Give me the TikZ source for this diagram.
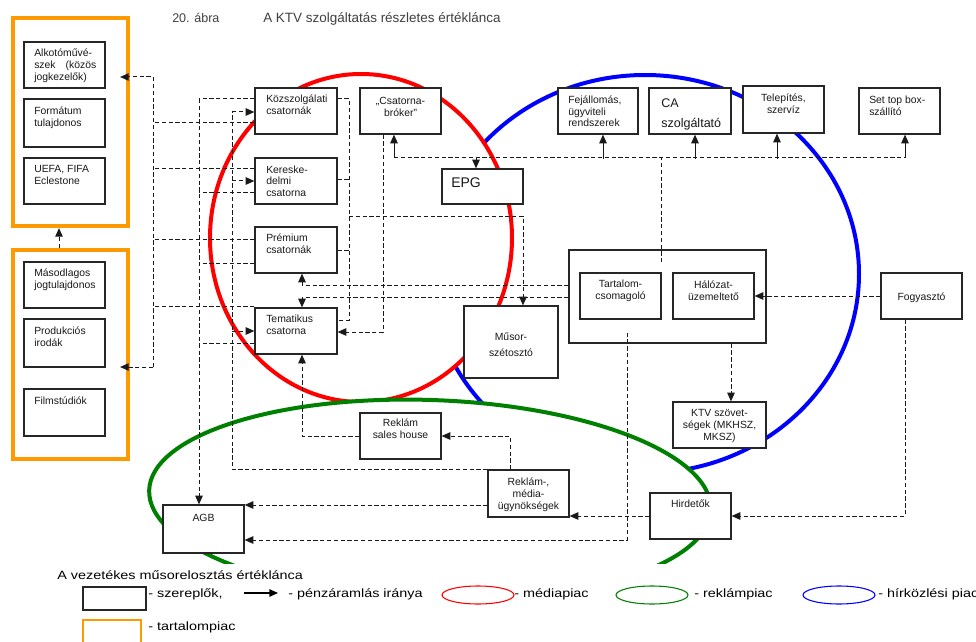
\documentclass[tikz,border=0pt]{standalone}
\usepackage{fontspec}
\setmainfont{Liberation Sans}
\newfontfamily\legendfont[FakeStretch=1.2]{Liberation Sans}
\usetikzlibrary{arrows.meta,calc,fit}

\definecolor{mkorange}{RGB}{255,153,0}
\definecolor{mkgreen}{RGB}{0,128,0}

\begin{document}
\begin{tikzpicture}[x=0.75pt,y=-0.75pt,
  box/.style={draw=black!85, line width=0.95pt, fill=white, inner sep=0pt},
  obox/.style={draw=mkorange, line width=3.1pt, inner sep=0pt},
  % labels are placed by the baseline of their last line
  txt/.style={inner sep=0pt, text=black!90, font=\fontsize{7.8}{8.8}\selectfont, align=left, anchor=base west},
  ctxt/.style={inner sep=0pt, text=black!90, font=\fontsize{7.8}{8.8}\selectfont, align=center, anchor=base},
  legtxt/.style={inner sep=0pt, anchor=base west, font=\legendfont\fontsize{9}{10}\selectfont},
  dline/.style={draw=black!90, line width=0.75pt, dash pattern=on 3.2pt off 1.9pt},
  flow/.style={dline, -{Triangle[length=6.5pt,width=5.6pt]}},
  sflow/.style={draw=black!90, line width=0.75pt, -{Triangle[length=6.5pt,width=5.6pt]}},
  market/.style={line width=3pt, fill=white},
]
\useasboundingbox (0,0) rectangle (976,642);
\fill[white] (0,0) rectangle (976,642);

% heading
\node[inner sep=0pt, anchor=base west, text=black!75, font=\fontsize{9.4}{11}\selectfont] (fig-no) at (172,23) {20. ábra};
\node[inner sep=0pt, anchor=base west, text=black!75, font=\fontsize{10.1}{11}\selectfont] (fig-title) at (263,23) {A KTV szolgáltatás részletes értéklánca};

% markets (white inside, so the later ones cover the earlier ones)
\draw[market, draw=blue] (645,274) ellipse [x radius=214, y radius=199];
\draw[market, draw=red] (361,238) ellipse [x radius=151, y radius=164];
\begin{scope}
  \clip (0,0) rectangle (976,563);
  \draw[market, draw=mkgreen, rotate around={-2:(430,500)}] (430,500) ellipse [x radius=281, y radius=100];
\end{scope}

% content market
\node[obox, fit={(13,18) (128,226)}] (orT) {};
\node[obox, fit={(13,250) (128,459)}] (orB) {};

\node[box, fit={(24,42) (105,88)}] (alk) {};
\node[box, fit={(24,99) (105,147)}] (form) {};
\node[box, fit={(24,158) (105,204)}] (uefa) {};
\node[box, fit={(24,262) (105,308)}] (maso) {};
\node[box, fit={(24,319) (105,367)}] (prod) {};
\node[box, fit={(24,389) (105,436)}] (film) {};

% channels
\node[box, fit={(255,88) (337,134)}] (kozsz) {};
\node[box, fit={(255,158) (337,204)}] (keres) {};
\node[box, fit={(255,227) (337,273)}] (prem) {};
\node[box, fit={(255,308) (337,354)}] (temat) {};

% technical side
\node[box, fit={(360,88) (441,134)}] (broker) {};
\node[box, fit={(442,169) (523,204)}] (epg) {};
\node[box, fit={(558,88) (638,134)}] (fej) {};
\node[box, fit={(649,88) (731,134)}] (ca) {};
\node[box, fit={(743,86) (824,133)}] (telep) {};
\node[box, fit={(859,88) (940,134)}] (stb) {};
\node[box, fit={(464,306) (558,378)}] (musor) {};
\node[box, fit={(569,250) (766,343)}] (cont) {};
\node[box, fit={(580,273) (661,319)}] (tart) {};
\node[box, fit={(673,273) (754,319)}] (hal) {};
\node[box, fit={(881,273) (962,319)}] (fogy) {};
\node[box, fit={(673,402) (766,448)}] (ktv) {};

% advertising side
\node[box, fit={(360,413) (441,459)}] (sales) {};
\node[box, fit={(488,470) (569,517)}] (ugyn) {};
\node[box, fit={(163,505) (244,553)}] (agb) {};
\node[box, fit={(650,493) (731,539)}] (hird) {};

% labels (a fixed text width puts the baseline on the first line)
\node[txt, text width=46.5pt] (alk-t) at (34,57) {Alkotóművé-\\szek\hfill(közös\\jogkezelők)};
\node[txt] (form-t) at (34,126.2) {Formátum\\tulajdonos};
\node[txt] (uefa-t) at (34,184.2) {UEFA, FIFA\\Eclestone};
\node[txt] (maso-t) at (34,288.2) {Másodlagos\\jogtulajdonos};
\node[txt] (prod-t) at (34,346.2) {Produkciós\\irodák};
\node[txt] (film-t) at (34,404.5) {Filmstúdiók};
\node[txt] (kozsz-t) at (266,114.2) {Közszolgálati\\csatornák};
\node[txt] (keres-t) at (266,196.5) {Kereske-\\delmi\\csatorna};
\node[txt] (prem-t) at (266,253.2) {Prémium\\csatornák};
\node[txt] (temat-t) at (266,334.2) {Tematikus\\csatorna};
\node[ctxt] (broker-t) at (400.5,116.2) {„Csatorna-\\bróker”};
\node[txt, font=\fontsize{10.5}{12}\selectfont] (epg-t) at (451,188) {EPG};
\node[txt] (fej-t) at (568,127) {Fejállomás,\\ügyviteli\\rendszerek};
\node[txt, font=\fontsize{9.4}{15}\selectfont] (ca-t) at (661,127.5) {CA\\szolgáltató};
\node[ctxt] (telep-t) at (783.5,113.2) {Telepítés,\\szervíz};
\node[txt] (stb-t) at (869,115.2) {Set top box-\\szállító};
\node[ctxt, font=\fontsize{7.8}{12}\selectfont] (musor-t) at (511,356.5) {Műsor-\\szétosztó};
\node[ctxt] (tart-t) at (620.5,299.2) {Tartalom-\\csomagoló};
\node[ctxt] (hal-t) at (713.5,300.2) {Hálózat-\\üzemeltető};
\node[ctxt] (fogy-t) at (921.5,300.5) {Fogyasztó};
\node[ctxt] (ktv-t) at (719.5,440) {KTV szövet-\\ségek (MKHSZ,\\MKSZ)};
\node[ctxt] (sales-t) at (400.5,438.2) {Reklám\\sales house};
\node[ctxt] (ugyn-t) at (528.5,509) {Reklám-,\\média-\\ügynökségek};
\node[ctxt] (agb-t) at (203.5,521) {AGB};
\node[ctxt] (hird-t) at (690.5,507.5) {Hirdetők};

% bus positions
\coordinate (xA) at (153,0);
\coordinate (xB) at (199,0);
\coordinate (xC) at (232,0);
\coordinate (xD) at (302,0);
\coordinate (xE) at (349,0);
\coordinate (busL) at (394,158);
\coordinate (busR) at (905,158);
\coordinate (tagb) at (627,540);

% secondary rights holders -> content owners
\draw[flow] ($(orB.north)+(-11.5,0)$) -- ($(orT.south)+(-11.5,0)$);

% channels -> content owners
\draw[dline] (kozsz.west |- 0,123) -- (xA |- 0,123);
\draw[dline] (keres.west |- 0,169) -- (xA |- 0,169);
\draw[dline] (prem.west |- 0,239) -- (xA |- 0,239);
\draw[dline] (temat.west |- 0,306) -- (xA |- 0,306);
\draw[flow] (xA |- 0,367) -- (xA |- 0,77) -- ($(orT.east |- 0,77)+(-10,0)$);
\draw[flow] (xA |- 0,367) -- ($(orB.east |- 0,367)+(-10,0)$);

% channels -> AGB
\draw[dline] (kozsz.west |- 0,99) -- (xB |- 0,99);
\draw[dline] (keres.west |- 0,193) -- (xB |- 0,193);
\draw[dline] (prem.west |- 0,263) -- (xB |- 0,263);
\draw[dline] (temat.west |- 0,343) -- (xB |- 0,343);
\draw[flow] (xB |- 0,99) -- (xB |- agb.north);

% agencies -> channels
\draw[dline] (ugyn.north west) -- (xC |- ugyn.north) -- (xC |- 0,112);
\draw[flow] (xC |- 0,112) -- (kozsz.west |- 0,112);
\draw[flow] (xC |- 0,181) -- (keres.west |- 0,181);
\draw[flow] (xC |- 0,331) -- (temat.west |- 0,331);

% sales house -> thematic channel
\draw[flow] (sales.west) -| (xD |- temat.south);
% agencies -> sales house, AGB
\draw[flow] ($(ugyn.north)+(-18.5,0)$) |- (sales.east);
\draw[flow] (ugyn.west |- 0,505) -- (agb.east |- 0,505);

% channels -> distributor
\draw[dline] (kozsz.east |- 0,99) -| (xE |- 0,320) -- (temat.east |- 0,320);
\draw[dline] (keres.east |- 0,180) -- (xE |- 0,180);
\draw[dline] (prem.east |- 0,250) -- (xE |- 0,250);
\draw[flow] (xE |- 0,216) -| ($(musor.north)+(12,0)$);

% broker -> thematic channel
\draw[flow] ($(broker.south)+(-17.5,0)$) |- (temat.east |- 0,332);

% packager -> premium, thematic
\draw[flow] (cont.west |- 0,285) -| (xD |- prem.south);
\draw[flow] (cont.west |- 0,297) -| (xD |- temat.north);

% packager -> technical suppliers
\draw[dline] ($(tart.north east)+(0,-10)$) -- (tart.north east |- busL);
\draw[dline] (busL) -- (busR);
\draw[sflow] (busL) -- (busL |- broker.south);
\draw[sflow] ($(fej.south)+(5,24)$) -- ($(fej.south)+(5,0)$);
\draw[sflow] ($(ca.south)+(5,24)$) -- ($(ca.south)+(5,0)$);
\draw[sflow] ($(telep.south)+(-6.5,25)$) -- ($(telep.south)+(-6.5,0)$);
\draw[sflow] (busR) -- (busR |- stb.south);
\draw[sflow] ($(epg.north)+(-6.5,-11)$) -- ($(epg.north)+(-6.5,0)$);

% packager -> AGB
\draw[flow] ($(tart.south)+(6.5,13)$) -- (tagb) -- (agb.east |- tagb);

% consumer -> operator, operator -> associations
\draw[flow] (fogy.west) -- (hal.east);
\draw[flow] ($(cont.south)+(63.5,0)$) -- ($(ktv.north)+(11.5,0)$);

% consumer -> advertisers -> agencies
\draw[flow] ($(fogy.south)+(-16.5,0)$) |- (hird.east);
\draw[flow] (hird.west) -- (ugyn.east |- hird.west);

% key
\node[legtxt] (key-title) at (57,579) {A vezetékes műsorelosztás értéklánca};
\node[box, fit={(83,587) (146,610)}] (key-box) {};
\node[legtxt] (key-box-t) at (148,597) {- szereplők,};
\coordinate (key-a1) at (244,593);
\coordinate (key-a2) at (278,593);
\draw[draw=black, line width=1pt, -{Triangle[length=6.5pt,width=5.6pt]}] (key-a1) -- (key-a2);
\node[legtxt] (key-arrow-t) at (288,597) {- pénzáramlás iránya};
\draw[red, line width=0.8pt] (478,595) ellipse [x radius=36, y radius=9];
\node[legtxt] (key-red-t) at (514,597) {- médiapiac};
\draw[mkgreen, line width=0.8pt] (652,595) ellipse [x radius=36, y radius=9];
\node[legtxt] (key-green-t) at (694,597) {- reklámpiac};
\draw[blue, line width=0.8pt] (839,595) ellipse [x radius=36, y radius=9];
\node[legtxt] (key-blue-t) at (878,597) {- hírközlési piac};
\node[draw=mkorange, line width=1.1pt, inner sep=0pt, fit={(83,620) (141,652)}] (key-orange) {};
\node[legtxt] (key-orange-t) at (148,630) {- tartalompiac};
\end{tikzpicture}
\end{document}
